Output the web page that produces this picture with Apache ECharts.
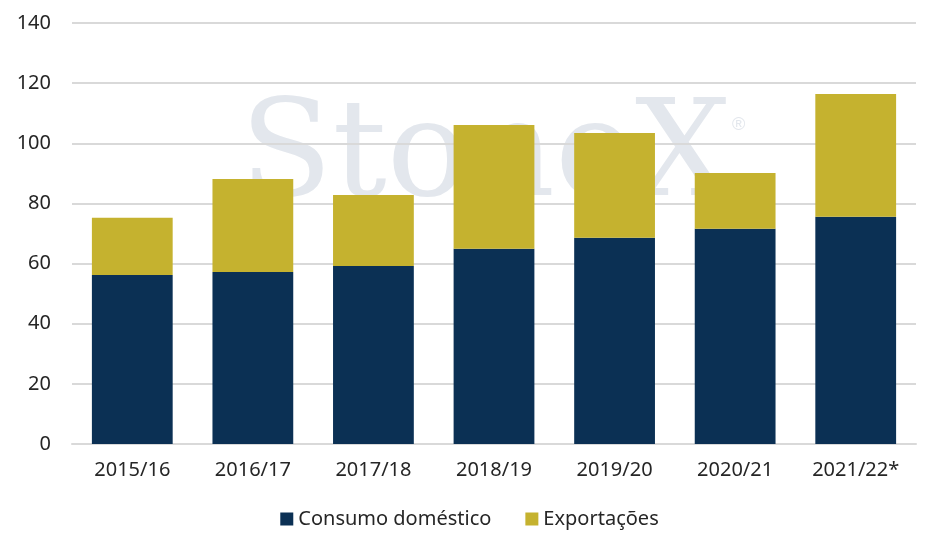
<!DOCTYPE html>
<html>
<head>
<meta charset="utf-8">
<script src="https://cdn.jsdelivr.net/npm/echarts@6/dist/echarts.min.js"></script>
<style>
  html, body { margin: 0; padding: 0; background: #fff; }
  #main { width: 939px; height: 548px; }
</style>
</head>
<body>
<div id="main"></div>
<script>
// safras e valores
var safras = ['2015/16', '2016/17', '2017/18', '2018/19', '2019/20', '2020/21', '2021/22*'];
var consumoDomestico = [56.2, 57.2, 59.2, 64.9, 68.6, 71.6, 75.6];
var exportacoes = [19.0, 30.9, 23.6, 41.2, 34.8, 18.5, 40.8];
var yTicks = [0, 20, 40, 60, 80, 100, 120, 140];

var fonte = "'Noto Sans', 'Liberation Sans', sans-serif";

var myChart = echarts.init(document.getElementById('main'));

myChart.setOption({
    animation: false,
    backgroundColor: '#ffffff',
    textStyle: { fontFamily: fonte },
    graphic: [
        {
            type: 'text',
            left: 240,
            top: 92,
            z: -10,
            silent: true,
            style: {
                text: 'StoneX',
                font: '135px "DejaVu Serif", serif',
                fill: '#e3e7ed'
            }
        },
        {
            type: 'text',
            left: 732,
            top: 116,
            z: -10,
            silent: true,
            style: {
                text: '®',
                font: '18px sans-serif',
                fill: '#e3e7ed'
            }
        }
    ],
    grid: {
        left: 72,
        right: 23,
        top: 23,
        bottom: 104,
        containLabel: false
    },
    legend: {
        data: ['Consumo doméstico', 'Exportações'],
        bottom: 14,
        left: 'center',
        icon: 'rect',
        itemWidth: 13,
        itemHeight: 13,
        itemGap: 34,
        itemTextGap: 6,
        textStyle: { fontSize: 20, color: '#262626', fontFamily: fonte }
    },
    xAxis: {
        type: 'category',
        data: safras,
        axisLine: { lineStyle: { color: '#d9d9d9', width: 2 } },
        axisTick: { show: false },
        axisLabel: { fontSize: 20, color: '#262626', margin: 16, fontFamily: fonte }
    },
    yAxis: {
        type: 'value',
        min: yTicks[0],
        max: yTicks[yTicks.length - 1],
        interval: 20,
        axisLine: { show: false },
        axisTick: { show: false },
        splitLine: { lineStyle: { color: '#d9d9d9', width: 2 } },
        axisLabel: { fontSize: 20, color: '#262626', margin: 21, fontFamily: fonte }
    },
    series: [
        {
            name: 'Consumo doméstico',
            type: 'bar',
            stack: 'total',
            barWidth: '67%',
            data: consumoDomestico,
            itemStyle: { color: '#0b3054' }
        },
        {
            name: 'Exportações',
            type: 'bar',
            stack: 'total',
            barWidth: '67%',
            data: exportacoes,
            itemStyle: { color: '#c5b22f' }
        }
    ]
});
</script>
</body>
</html>
